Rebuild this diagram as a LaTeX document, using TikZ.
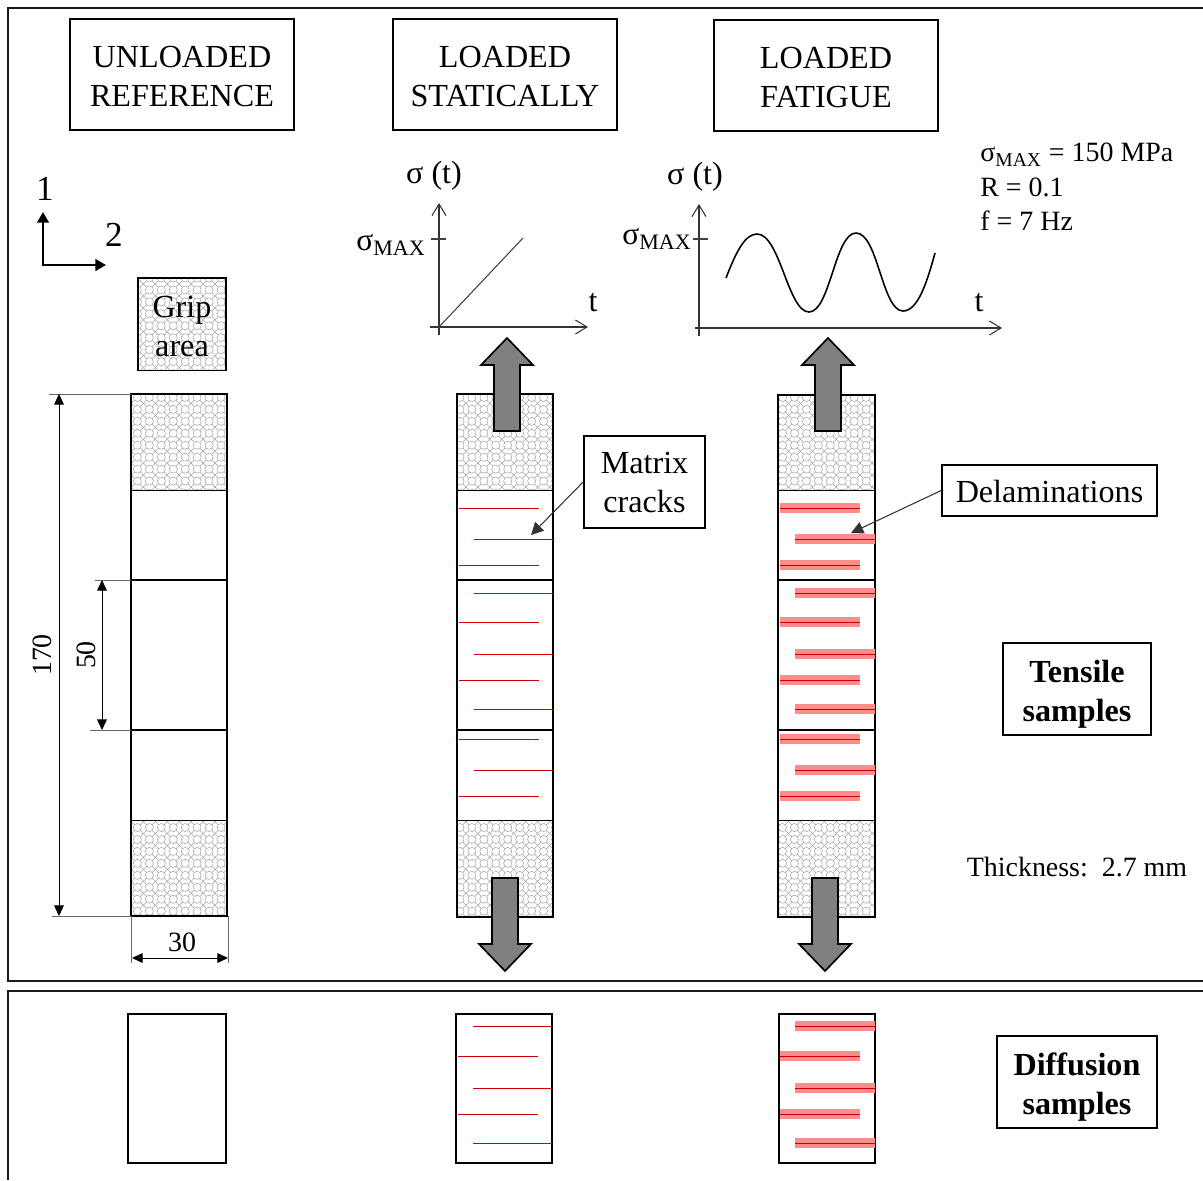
\documentclass[tikz,border=0pt]{standalone}
\usepackage{fontspec}
\setmainfont{Liberation Serif}
\usepackage{tikz}
\usetikzlibrary{arrows.meta,patterns}

\pgfdeclarepatternformonly{gripmesh}{\pgfqpoint{-0.5pt}{-0.5pt}}{\pgfqpoint{7.3pt}{7.3pt}}{\pgfqpoint{6.8pt}{6.8pt}}{
  \pgfsetlinewidth{0.3pt}
  \pgfpathcircle{\pgfqpoint{3.4pt}{3.4pt}}{2.3pt}
  \pgfpathmoveto{\pgfqpoint{0pt}{0pt}}\pgfpathlineto{\pgfqpoint{1.7pt}{1.7pt}}
  \pgfpathmoveto{\pgfqpoint{6.8pt}{0pt}}\pgfpathlineto{\pgfqpoint{5.1pt}{1.7pt}}
  \pgfpathmoveto{\pgfqpoint{0pt}{6.8pt}}\pgfpathlineto{\pgfqpoint{1.7pt}{5.1pt}}
  \pgfpathmoveto{\pgfqpoint{6.8pt}{6.8pt}}\pgfpathlineto{\pgfqpoint{5.1pt}{5.1pt}}
  \pgfusepath{stroke}
}

\begin{document}
\begin{tikzpicture}[
  x=0.02cm,
  y=-0.02cm,
  frameline/.style={draw=black!90, line width=1.1pt},
  specimen/.style={draw=black, line width=0.95pt},
  grip/.style={draw=none, pattern=gripmesh, pattern color=black!36},
  labelbox/.style={draw=black, line width=0.95pt, fill=white, align=center, inner sep=0pt,
    font=\fontsize{18.3}{22}\selectfont, text height=36.4pt},
  boldbox/.style={labelbox, font=\fontsize{18.3}{22}\selectfont\bfseries, text height=40.6pt},
  plainlabel/.style={inner sep=0pt, font=\fontsize{18.3}{22}\selectfont},
  maxlabel/.style={inner sep=0pt, anchor=east, font=\fontsize{17.9}{22}\selectfont},
  smalllabel/.style={inner sep=0pt, font=\fontsize{15.9}{19.5}\selectfont},
  crack/.style={draw=red!80!black, line width=0.5pt},
  delamination/.style={draw=red!45, line width=6.2pt},
  axisline/.style={draw=black!80, line width=0.6pt, -{Straight Barb[length=6.6pt,width=8pt]}},
  plotline/.style={draw=black!75, line width=0.6pt},
  sineline/.style={draw=black, line width=0.9pt},
  dimline/.style={draw=black, line width=0.5pt, {Triangle[length=6pt,width=5.5pt]}-{Triangle[length=6pt,width=5.5pt]}},
  extline/.style={draw=black!60, line width=0.5pt},
  loadarrow/.style={draw=black, fill=black!50, line width=0.95pt},
  calloutarrow/.style={draw=black!80, line width=0.6pt, -{Triangle[length=7pt,width=7pt]}},
  triad/.style={draw=black, line width=1.7pt, {Triangle[length=6pt,width=6.5pt]}-{Triangle[length=6pt,width=6.5pt]}}
]
  \useasboundingbox (0,0) rectangle (1203,1180);

  \draw[frameline] (1203,8) -- (8,8) -- (8,981) -- (1203,981);
  \draw[frameline] (1203,991) -- (8,991) -- (8,1180);

  \node[labelbox, minimum width=224*0.02cm, minimum height=111*0.02cm] (unloadedbox) at (182,74.5) {UNLOADED\\REFERENCE};
  \node[labelbox, minimum width=224*0.02cm, minimum height=111*0.02cm] (staticbox) at (505,74.5) {LOADED\\STATICALLY};
  \node[labelbox, minimum width=224*0.02cm, minimum height=111*0.02cm] (fatiguebox) at (826,75.5) {LOADED\\FATIGUE};

  \node[smalllabel, anchor=north west, align=left] (paramtext) at (980,143) {σ\textsubscript{MAX} = 150 MPa\\R = 0.1\\f = 7 Hz};

  \draw[triad] (43,212) -- (43,265) -- (106,265);
  \node[inner sep=0pt, font=\fontsize{20}{24}\selectfont] (dirone) at (45,189) {1};
  \node[inner sep=0pt, font=\fontsize{20}{24}\selectfont] (dirtwo) at (114,235) {2};

  \draw[grip] (138,278) rectangle (226,370.5);
  \draw[specimen] (138,278) rectangle (226,370.5);
  \node[plainlabel, align=center] (griptext) at (182,326.5) {Grip\\area};

  \foreach \x/\xb/\ya/\yb in {131/227/394/916,457/553/394/917,778/875/395/917} {
    \draw[grip] (\x,\ya) rectangle (\xb,490.5);
    \draw[grip] (\x,820.5) rectangle (\xb,\yb);
    \draw[specimen] (\x,\ya) rectangle (\xb,\yb);
    \draw[specimen] (\x,490.5) -- (\xb,490.5);
    \draw[specimen] (\x,580) -- (\xb,580);
    \draw[specimen] (\x,730) -- (\xb,730);
    \draw[specimen] (\x,820.5) -- (\xb,820.5);
  }
  \draw[specimen] (128,1014) rectangle (226,1163);
  \draw[specimen] (456,1014) rectangle (552,1163);
  \draw[specimen] (779,1014) rectangle (875,1163);

  \foreach \y in {508,565,622,680,739,796} {
    \draw[crack] (459,\y) -- (539,\y);
    \draw[delamination] (780,\y) -- (860,\y);
    \draw[crack] (780,\y) -- (860,\y);
  }
  \foreach \y in {539,593,654,709,770} {
    \draw[crack] (474,\y) -- (553,\y);
    \draw[delamination] (795,\y) -- (875,\y);
    \draw[crack] (795,\y) -- (875,\y);
  }
  \foreach \y in {1056,1114} {
    \draw[crack] (458,\y) -- (538,\y);
    \draw[delamination] (780,\y) -- (860,\y);
    \draw[crack] (780,\y) -- (860,\y);
  }
  \foreach \y in {1026,1088,1143} {
    \draw[crack] (473,\y) -- (552,\y);
    \draw[delamination] (795,\y) -- (875,\y);
    \draw[crack] (795,\y) -- (875,\y);
  }

  \foreach \x in {507,828} {
    \draw[loadarrow] (\x,338) -- (\x+26,365) -- (\x+13,365) -- (\x+13,431) -- (\x-13,431) -- (\x-13,365) -- (\x-26,365) -- cycle;
  }
  \foreach \x in {505,825} {
    \draw[loadarrow] (\x,971) -- (\x+26,944) -- (\x+13,944) -- (\x+13,878) -- (\x-13,878) -- (\x-13,944) -- (\x-26,944) -- cycle;
  }

  \draw[extline] (49,394) -- (131,394);
  \draw[extline] (52,916) -- (131,916);
  \draw[extline] (95,580) -- (131,580);
  \draw[extline] (90,730) -- (131,730);
  \draw[extline] (131,916) -- (131,963);
  \draw[extline] (228,916) -- (228,963);
  \draw[dimline] (59,394) -- (59,916);
  \draw[dimline] (102,580) -- (102,730);
  \draw[dimline] (132,958) -- (228,958);
  \node[smalllabel, rotate=90] (dimlength) at (42,655) {170};
  \node[smalllabel, rotate=90] (dimgauge) at (86,655) {50};
  \node[smalllabel] (dimwidth) at (182,942) {30};

  \draw[axisline] (439,335) -- (439,203);
  \draw[axisline] (430,327) -- (588,327);
  \draw[plotline] (431,239) -- (446,239);
  \draw[plotline] (439,327) -- (523,238);
  \node[plainlabel] (sigmaone) at (434,176) {σ (t)};
  \node[maxlabel] (maxone) at (426,245) {σ\textsubscript{MAX}};
  \node[plainlabel] (timeone) at (593,303) {t};

  \draw[axisline] (699,336) -- (699,204);
  \draw[axisline] (695,328) -- (1002,328);
  \draw[plotline] (693,239) -- (708,239);
  \draw[sineline] (726,278) .. controls (736,252) and (745,234) .. (757,234) .. controls (780,234) and (788,312) .. (809,312) .. controls (830,312) and (835,233) .. (856,233) .. controls (878,233) and (882,311) .. (903,311) .. controls (918,311) and (927,282) .. (935,253);
  \node[plainlabel] (sigmatwo) at (695,177) {σ (t)};
  \node[maxlabel] (maxtwo) at (692,239) {σ\textsubscript{MAX}};
  \node[plainlabel] (timetwo) at (979,303) {t};

  \node[labelbox, text height=35pt, minimum width=121*0.02cm, minimum height=92*0.02cm] (matrixbox) at (644.5,482) {Matrix\\cracks};
  \coordinate (matrixtip) at (531,535);
  \draw[calloutarrow] (matrixbox.west) -- (matrixtip);

  \node[labelbox, text height=13.5pt, minimum width=215*0.02cm, minimum height=51*0.02cm] (delambox) at (1049.5,490.5) {Delaminations};
  \coordinate (delamtip) at (851,533);
  \draw[calloutarrow] (delambox.west) -- (delamtip);

  \node[boldbox, minimum width=148*0.02cm, minimum height=92*0.02cm] (tensilebox) at (1077,689) {Tensile\\samples};
  \node[boldbox, minimum width=160*0.02cm, minimum height=92*0.02cm] (diffusionbox) at (1077,1082) {Diffusion\\samples};
  \node[smalllabel] (thicknesstext) at (1077,867) {Thickness:\ \ 2.7 mm};
\end{tikzpicture}
\end{document}
